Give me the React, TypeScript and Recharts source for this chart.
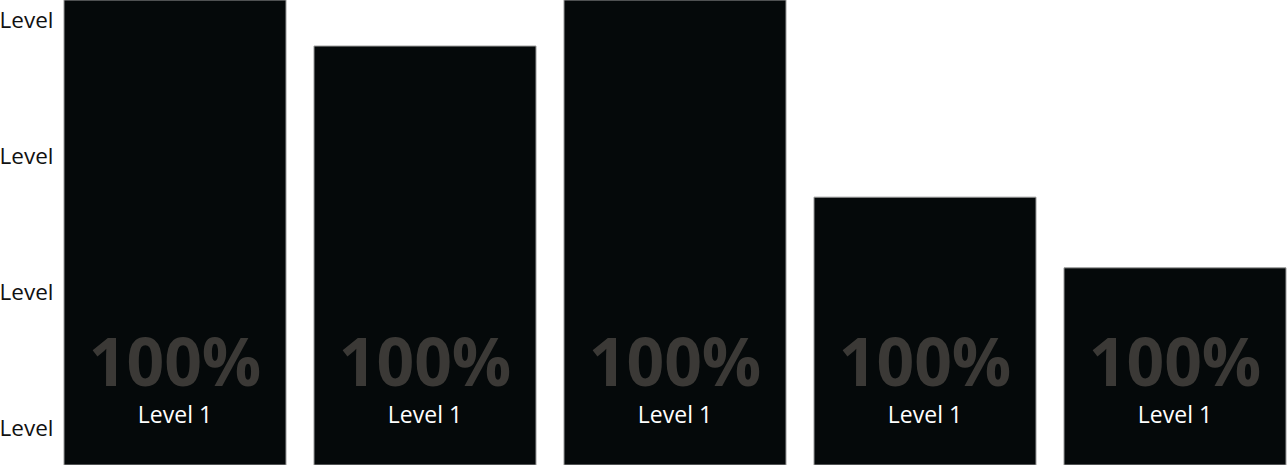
import React from "react";
import { BarChart, Bar, XAxis, YAxis, LabelList } from "recharts";

const categories = ["A", "B", "C", "D", "E"];
const values = [100, 90.1, 100, 57.6, 42.4];
const percentLabels = ["100%", "100%", "100%", "100%", "100%"];
const levelLabels = ["Level 1", "Level 1", "Level 1", "Level 1", "Level 1"];
const yTicks = [8.0, 37.2, 66.5, 95.7];
const yTickLabel = "Level";

const data = categories.map((c, i) => ({
  name: c,
  value: values[i],
  pct: percentLabels[i],
  level: levelLabels[i],
}));

const FONT = "'Open Sans', sans-serif";

const BarLabel = (props: any) => {
  const { x, y, width, height, index } = props;
  const cx = x + width / 2;
  const bottom = y + height;
  return (
    <g>
      <text
        x={cx}
        y={bottom - 79}
        textAnchor="middle"
        fill="#3b3936"
        fontFamily={FONT}
        fontWeight={700}
        fontSize={66}
      >
        {data[index].pct}
      </text>
      <text
        x={cx}
        y={bottom - 42}
        textAnchor="middle"
        fill="#ffffff"
        fontFamily={FONT}
        fontSize={23}
      >
        {data[index].level}
      </text>
    </g>
  );
};

const YTick = (props: any) => {
  const { x, y } = props;
  return (
    <text
      x={x}
      y={y}
      dy="0.355em"
      textAnchor="end"
      fill="#111111"
      fontFamily={FONT}
      fontSize={22.5}
    >
      {yTickLabel}
    </text>
  );
};

export default function App() {
  return (
    <div style={{ position: "absolute", left: 0, top: 0 }}>
      <BarChart
        width={1300}
        height={466}
        data={data}
        margin={{ top: 0, right: 0, bottom: 1, left: 0 }}
        barCategoryGap={14}
      >
        <XAxis dataKey="name" hide />
        <YAxis
          width={50}
          domain={[0, 100]}
          ticks={yTicks}
          tick={<YTick />}
          tickLine={false}
          axisLine={false}
          tickSize={0}
          tickMargin={-3.5}
          allowDataOverflow
        />
        <Bar
          dataKey="value"
          fill="#05090a"
          stroke="#9a9a9a"
          strokeWidth={1}
          isAnimationActive={false}
        >
          <LabelList dataKey="value" content={<BarLabel />} />
        </Bar>
      </BarChart>
    </div>
  );
}
